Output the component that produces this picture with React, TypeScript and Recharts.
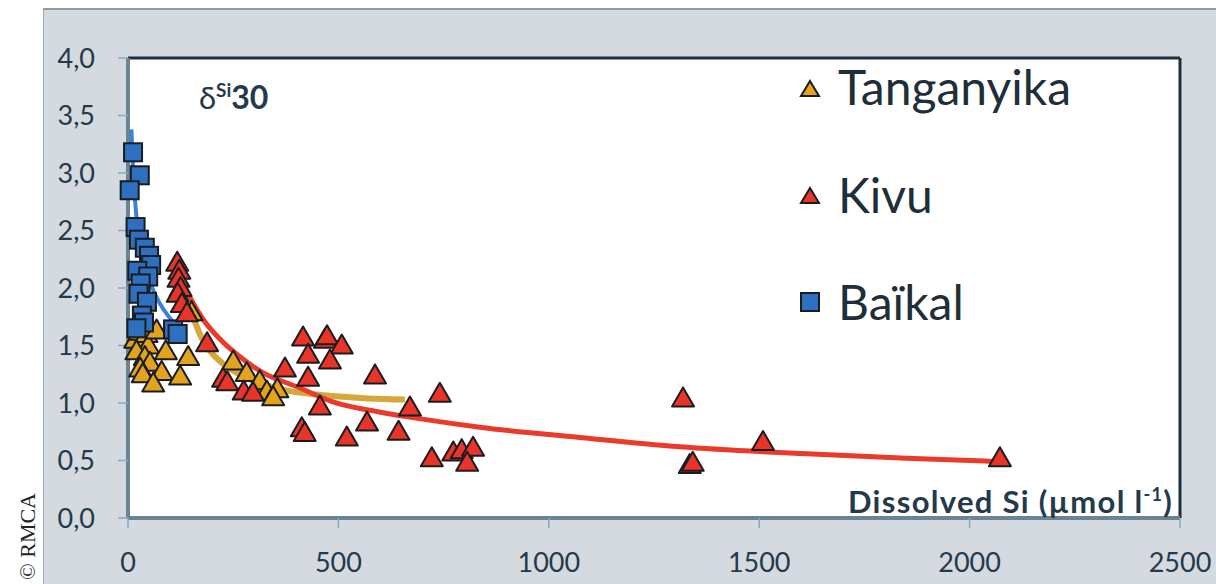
import React from 'react';
import {
  ScatterChart, Scatter, XAxis, YAxis, CartesianGrid, ReferenceLine,
} from 'recharts';

// measured points, [dissolved Si µmol/l, δ30Si ‰]
const baikal: [number, number][] = [
  [12, 3.18], [28, 2.98], [4, 2.85], [18, 2.53], [26, 2.42], [40, 2.35], [50, 2.28],
  [55, 2.2], [22, 2.15], [48, 2.1], [30, 2.04], [25, 1.95], [45, 1.88], [33, 1.76],
  [38, 1.7], [20, 1.65], [107, 1.64], [118, 1.6],
];

const tanganyika: [number, number][] = [
  [17, 1.55], [29, 1.62], [44, 1.6], [48, 1.5], [68, 1.63], [20, 1.45], [40, 1.4],
  [52, 1.35], [29, 1.3], [35, 1.25], [80, 1.27], [60, 1.17], [90, 1.45], [124, 1.23],
  [143, 1.4], [151, 1.79], [250, 1.36], [282, 1.26], [313, 1.19], [330, 1.1],
  [355, 1.12], [345, 1.05],
];

const kivu: [number, number][] = [
  [117, 2.22], [122, 2.15], [120, 2.08], [125, 2.0], [118, 1.95], [128, 1.86],
  [140, 1.78], [188, 1.52], [226, 1.21], [236, 1.18], [275, 1.1], [297, 1.09],
  [373, 1.3], [416, 1.57], [468, 1.55], [473, 1.58], [508, 1.5], [428, 1.42],
  [480, 1.37], [428, 1.22], [587, 1.24], [456, 0.97], [413, 0.78], [420, 0.74],
  [520, 0.7], [568, 0.83], [670, 0.96], [643, 0.75], [741, 1.08], [722, 0.52],
  [773, 0.57], [793, 0.59], [820, 0.61], [806, 0.48], [1319, 1.04], [1335, 0.46],
  [1342, 0.48], [1509, 0.66], [2072, 0.52],
];

// fitted trend curves
const baikalFit: [number, number][] = [
  [8, 3.38], [12, 3.05], [16, 2.8], [22, 2.55], [30, 2.35], [40, 2.2], [50, 2.08],
  [60, 1.98], [75, 1.87], [95, 1.76], [116, 1.67],
];
const tanganyikaFit: [number, number][] = [
  [148, 1.82], [165, 1.65], [180, 1.53], [200, 1.43], [230, 1.33], [260, 1.26],
  [300, 1.19], [350, 1.13], [409, 1.09], [487, 1.06], [570, 1.04], [658, 1.03],
];
const kivuFit: [number, number][] = [
  [119, 2.12], [150, 1.9], [180, 1.72], [220, 1.55], [260, 1.42], [313, 1.28],
  [409, 1.13], [487, 1.01], [600, 0.92], [700, 0.86], [836, 0.79], [1074, 0.7],
  [1312, 0.62], [1600, 0.56], [1850, 0.52], [2072, 0.49],
];

const xTicks = [0, 500, 1000, 1500, 2000, 2500];
const yTicks = [0, 0.5, 1, 1.5, 2, 2.5, 3, 3.5, 4];

const legendItems = [
  { name: 'Tanganyika', color: '#e3a31f', shape: 'triangle' },
  { name: 'Kivu', color: '#e9342a', shape: 'triangle' },
  { name: 'Baïkal', color: '#2f6fbf', shape: 'square' },
];

const toXY = (arr: [number, number][]) => arr.map(([x, y]) => ({ x, y }));

const FONT = 'Lato, "Open Sans", sans-serif';
const INK = '#24394a';

const triangle = (fill: string) => (props: any) => {
  const { cx, cy } = props;
  return (
    <polygon
      points={`${cx},${cy - 11} ${cx + 11},${cy + 8} ${cx - 11},${cy + 8}`}
      fill={fill}
      stroke="#1a1d20"
      strokeWidth={2}
      strokeLinejoin="round"
    />
  );
};

const square = (fill: string) => (props: any) => {
  const { cx, cy } = props;
  return <rect x={cx - 9} y={cy - 9} width={18} height={18} fill={fill} stroke="#1a1d20" strokeWidth={2} />;
};

const noDot = () => <g />;

export default function App() {
  return (
    <div style={{ position: 'absolute', left: 0, top: 0, width: 1216, height: 584, background: '#fff', overflow: 'hidden' }}>
      <div
        style={{
          position: 'absolute', left: 43, top: 8, width: 1173, height: 576,
          background: '#d4dadf', borderTop: '2px solid #8f9aa1', borderLeft: '1px solid #a3adb3',
        }}
      />
      <div style={{ position: 'absolute', left: 0, top: 0 }}>
        <ScatterChart width={1216} height={584} margin={{ top: 58, right: 36, bottom: 26, left: 0 }}>
          <CartesianGrid fill="#ffffff" horizontal={false} vertical={false} />
          <XAxis
            type="number"
            dataKey="x"
            domain={[0, 2500]}
            ticks={xTicks}
            height={40}
            tickSize={10}
            tickMargin={25}
            axisLine={{ stroke: '#6c8391', strokeWidth: 4 }}
            tickLine={{ stroke: '#86a9c4', strokeWidth: 1.5 }}
            tick={{ fill: INK, fontSize: 27, fontFamily: FONT }}
          />
          <YAxis
            type="number"
            dataKey="y"
            domain={[0, 4]}
            ticks={yTicks}
            width={128}
            tickSize={10}
            tickMargin={23}
            axisLine={{ stroke: '#6c8391', strokeWidth: 4 }}
            tickLine={{ stroke: '#86a9c4', strokeWidth: 1.5 }}
            tick={{ fill: INK, fontSize: 27, fontFamily: FONT }}
            tickFormatter={(v: number) => v.toFixed(1).replace('.', ',')}
          />
          <ReferenceLine y={4} stroke="#1c2f3a" strokeWidth={3} />
          <ReferenceLine x={2500} stroke="#1c2f3a" strokeWidth={3} />

          <Scatter data={toXY(baikalFit)} line={{ stroke: '#3a82d4', strokeWidth: 4 }} lineJointType="monotoneX" shape={noDot} isAnimationActive={false} />
          <Scatter data={toXY(tanganyikaFit)} line={{ stroke: '#d6a73a', strokeWidth: 6 }} lineJointType="monotoneX" shape={noDot} isAnimationActive={false} />
          <Scatter data={toXY(kivuFit)} line={{ stroke: '#ea3a2b', strokeWidth: 5 }} lineJointType="monotoneX" shape={noDot} isAnimationActive={false} />

          <Scatter data={toXY(tanganyika)} shape={triangle('#e3a31f')} isAnimationActive={false} />
          <Scatter data={toXY(baikal)} shape={square('#2f6fbf')} isAnimationActive={false} />
          <Scatter data={toXY(kivu)} shape={triangle('#e9342a')} isAnimationActive={false} />
        </ScatterChart>
      </div>

      <svg width={1216} height={584} style={{ position: 'absolute', left: 0, top: 0, pointerEvents: 'none' }}>
        <text x={199} y={109} fill={INK} fontFamily={FONT} fontWeight={700}>
          <tspan fontSize={31} fontWeight={400}>δ</tspan>
          <tspan fontSize={19} dy={-12}>Si</tspan>
          <tspan fontSize={32} dy={12}>30</tspan>
        </text>

        <text x={848} y={513} fill={INK} fontFamily={FONT} fontWeight={700} fontSize={31} letterSpacing={1.3}>
          <tspan>Dissolved Si (µmol l</tspan>
          <tspan fontSize={18} dy={-12}>-1</tspan>
          <tspan dy={12}>)</tspan>
        </text>

        {legendItems.map((it, i) => {
          const cy = [89, 196, 302][i];
          const base = [105, 213, 320][i];
          return (
            <g key={it.name}>
              {it.shape === 'triangle' ? (
                <polygon points={`810,${cy - 8} 819,${cy + 7} 801,${cy + 7}`} fill={it.color} stroke="#1a1d20" strokeWidth={2} />
              ) : (
                <rect x={801} y={cy - 9} width={18} height={18} fill={it.color} stroke="#1a1d20" strokeWidth={2} />
              )}
              <text x={838} y={base} fill="#1f2f38" fontFamily={FONT} fontSize={48}>{it.name}</text>
            </g>
          );
        })}

        <text transform="translate(35,580) rotate(-90)" fill="#222" fontFamily='"Liberation Serif", serif' fontSize={22}>© RMCA</text>
      </svg>
    </div>
  );
}
